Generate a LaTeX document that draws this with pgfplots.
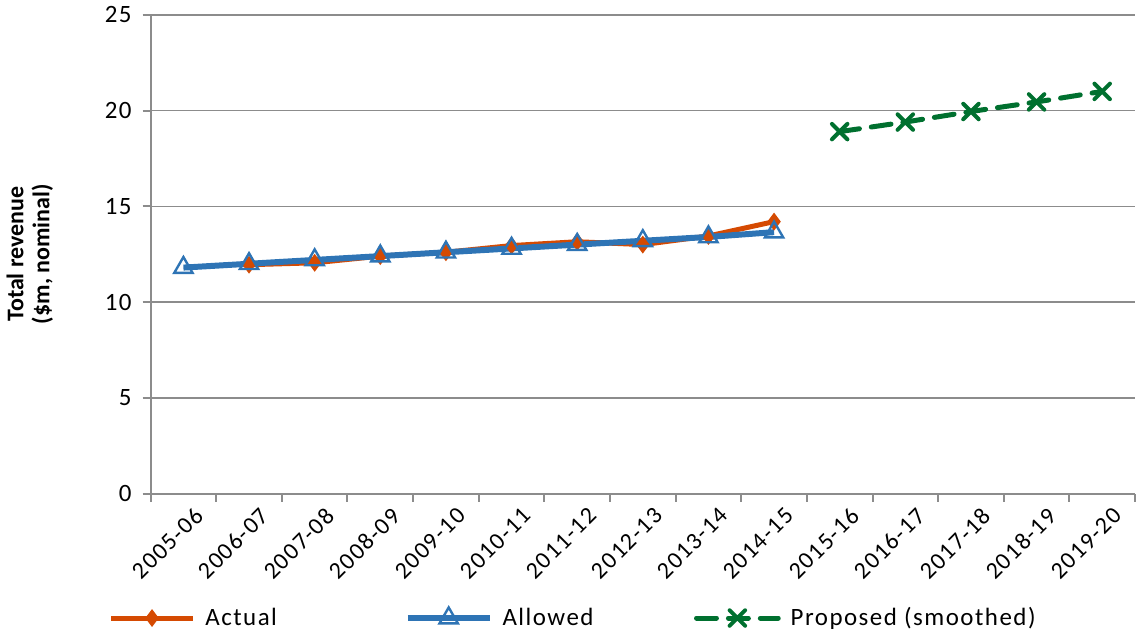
\documentclass[border=0pt]{standalone}
\usepackage{fontspec}
\setmainfont{Carlito}
\usepackage{pgfplots}
\pgfplotsset{compat=1.18}

\definecolor{actualc}{HTML}{D54A02}
\definecolor{allowedc}{HTML}{2E74B5}
\definecolor{proposedc}{HTML}{00702F}
\definecolor{axisgray}{HTML}{8C8C8C}

\newcommand\spaced{\addfontfeatures{LetterSpace=6}}

\begin{document}
\begin{tikzpicture}
\begin{axis}[
  scale only axis,
  width=493.5pt, height=240pt,
  xmin=-0.5, xmax=14.5,
  ymin=0, ymax=25,
  ytick={0,5,...,25},
  xtick={0,...,14},
  xticklabels={2005-06,2006-07,2007-08,2008-09,2009-10,2010-11,2011-12,2012-13,2013-14,2014-15,2015-16,2016-17,2017-18,2018-19,2019-20},
  minor xtick={-0.5,0.5,...,14.5},
  axis x line*=bottom,
  axis y line*=left,
  axis line style={axisgray, line width=1pt},
  every tick/.style={axisgray, line width=1pt},
  major x tick style={draw=none},
  tick align=outside,
  major tick length=4pt,
  minor tick length=4pt,
  ymajorgrids,
  grid style={axisgray, line width=0.8pt},
  x tick label style={rotate=45, anchor=north east, font=\fontsize{12}{14}\selectfont\spaced, inner sep=1pt, xshift=3pt, yshift=-4pt},
  y tick label style={font=\fontsize{12.5}{14}\selectfont\spaced, xshift=-2pt},
  /pgf/number format/assume math mode=true,
  ylabel={\textbf{Total revenue}\\\textbf{(\$m, nominal)}},
  ylabel style={align=center, font=\fontsize{12}{13}\selectfont, at={(axis description cs:-0.092,0.5)}},
  legend columns=3,
  legend style={draw=none, inner sep=0pt, at={(axis description cs:-0.043,-0.26)}, anchor=west,
    font=\fontsize{12.5}{14}\selectfont\spaced, column sep=3pt},
  legend cell align=left,
  legend image code/.code={
    \draw[mark repeat=2, mark phase=2, #1] plot coordinates {(0cm,0cm) (0.72cm,0cm) (1.44cm,0cm)};
  },
  clip=false,
]
\addplot[actualc, line width=2.5pt, mark=diamond*, mark size=4pt,
  mark options={solid, fill=actualc, line width=0.6pt}]
  coordinates {(1,11.95) (2,12.05) (3,12.4) (4,12.6) (5,12.95) (6,13.15) (7,13.0) (8,13.45) (9,14.2)};
\addlegendentry{\makebox[95pt][l]{Actual}}
\addplot[allowedc, line width=3pt, mark=triangle, mark size=5.3pt,
  mark options={solid, fill=white, line width=1.2pt}]
  coordinates {(0,11.8) (1,12.0) (2,12.2) (3,12.4) (4,12.6) (5,12.8) (6,13.0) (7,13.2) (8,13.4) (9,13.65)};
\addlegendentry{\makebox[91pt][l]{Allowed}}
\addplot[proposedc, line width=2.5pt, dash pattern=on 10pt off 6pt, line cap=round, mark=x, mark size=5.5pt,
  mark options={solid, line width=2pt}]
  coordinates {(10,18.9) (11,19.4) (12,19.95) (13,20.45) (14,21.0)};
\addlegendentry{Proposed (smoothed)}
\end{axis}
\end{tikzpicture}
\end{document}
